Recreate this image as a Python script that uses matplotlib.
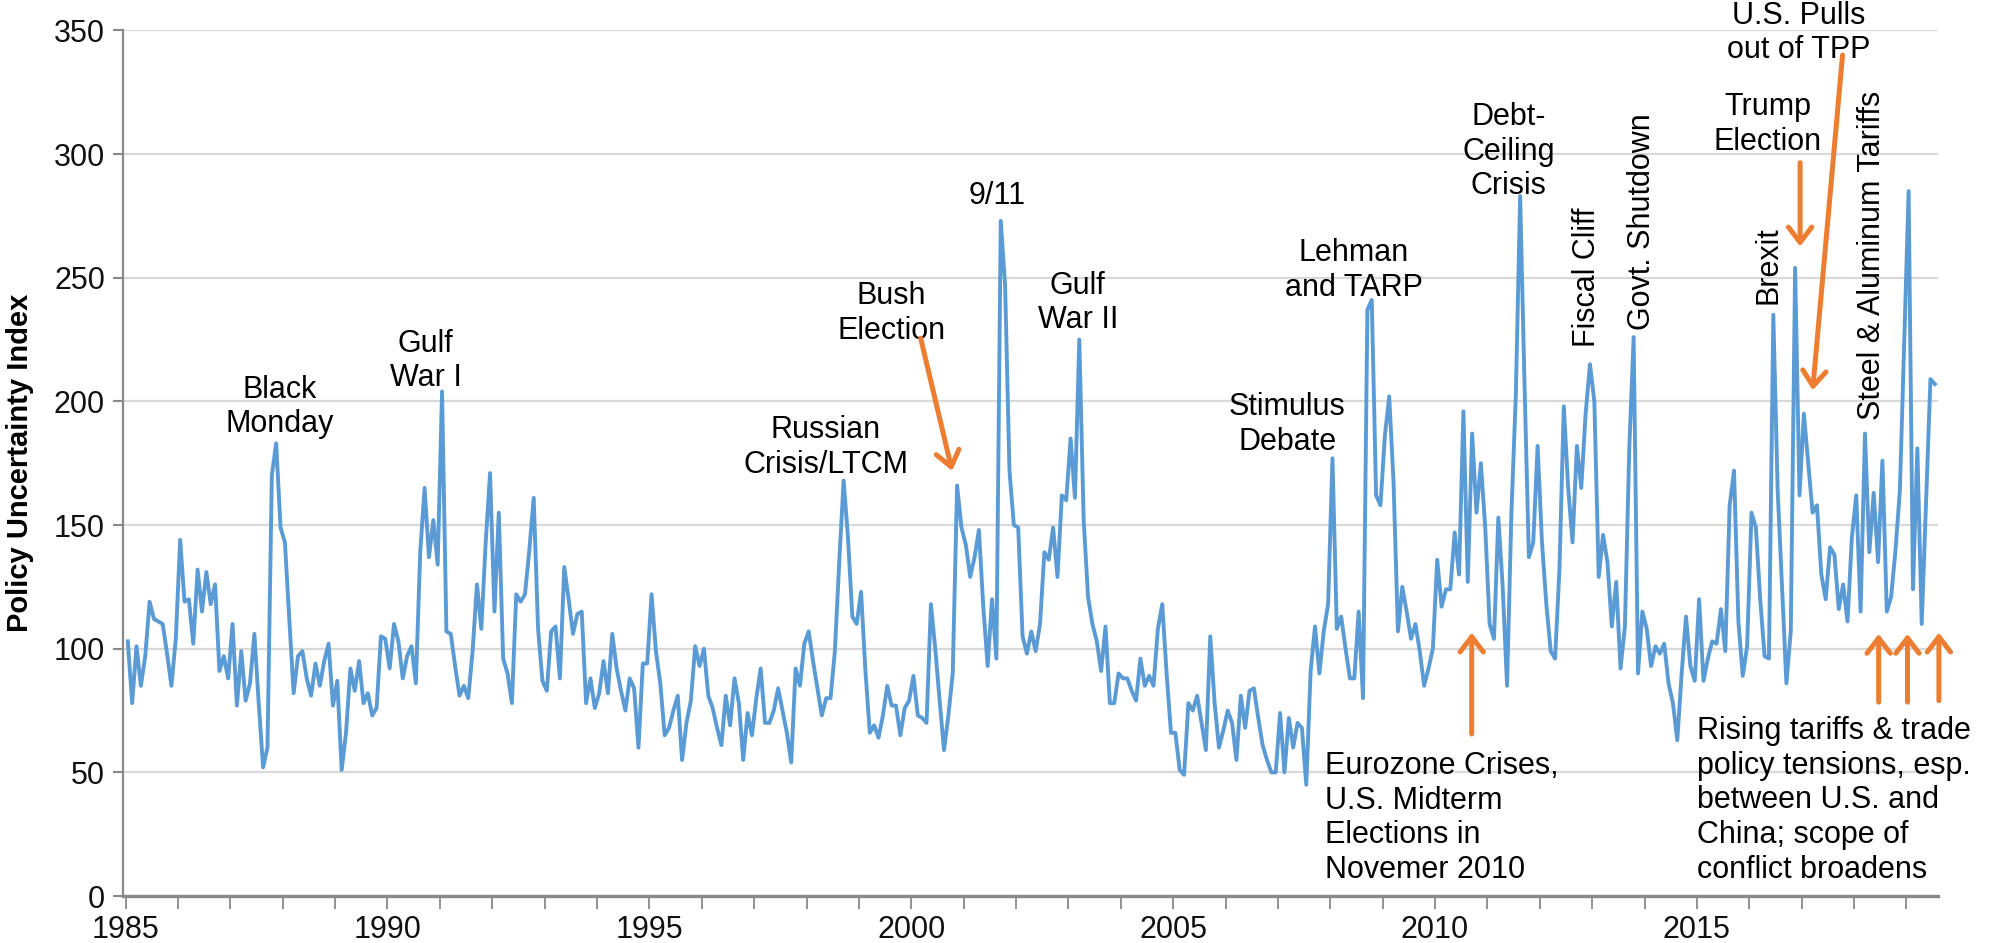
import matplotlib
matplotlib.use('Agg')
import matplotlib.pyplot as plt
import numpy as np

plt.rcParams['font.family'] = ['Liberation Sans', 'DejaVu Sans']

# ---------------- data (monthly, Jan 1985 - Jul 2019) ----------------
start_year = 1985
epu_1985 = [103, 78, 101, 85, 97, 119, 112, 111, 110, 98, 85, 104]
epu_1986 = [144, 119, 120, 102, 132, 115, 131, 118, 126, 91, 97, 88]
epu_1987 = [110, 77, 99, 79, 86, 106, 78, 52, 60, 170, 183, 149]
epu_1988 = [143, 112, 82, 97, 99, 88, 81, 94, 85, 95, 102, 77]
epu_1989 = [87, 51, 66, 92, 83, 95, 78, 82, 73, 76, 105, 104]
epu_1990 = [92, 110, 103, 88, 97, 101, 86, 139, 165, 137, 152, 134]
epu_1991 = [204, 107, 106, 93, 81, 85, 80, 99, 126, 108, 143, 171]
epu_1992 = [115, 155, 96, 90, 78, 122, 119, 122, 140, 161, 108, 87]
epu_1993 = [83, 107, 109, 88, 133, 120, 106, 114, 115, 78, 88, 76]
epu_1994 = [82, 95, 82, 106, 92, 83, 75, 88, 84, 60, 94, 94]
epu_1995 = [122, 99, 86, 65, 68, 75, 81, 55, 70, 79, 101, 93]
epu_1996 = [100, 81, 76, 68, 61, 81, 69, 88, 78, 55, 74, 65]
epu_1997 = [80, 92, 70, 70, 75, 84, 75, 66, 54, 92, 85, 102]
epu_1998 = [107, 95, 84, 73, 80, 80, 99, 135, 168, 145, 113, 110]
epu_1999 = [123, 91, 66, 69, 64, 73, 85, 77, 77, 65, 76, 79]
epu_2000 = [89, 73, 72, 70, 118, 100, 79, 59, 73, 90, 166, 149]
epu_2001 = [142, 129, 137, 148, 117, 93, 120, 96, 273, 247, 172, 150]
epu_2002 = [149, 105, 98, 107, 99, 110, 139, 136, 149, 129, 162, 160]
epu_2003 = [185, 161, 225, 152, 121, 110, 103, 91, 109, 78, 78, 90]
epu_2004 = [88, 88, 83, 79, 96, 85, 89, 85, 108, 118, 90, 66]
epu_2005 = [66, 51, 49, 78, 75, 81, 70, 59, 105, 78, 60, 67]
epu_2006 = [75, 70, 55, 81, 68, 83, 84, 72, 61, 55, 50, 50]
epu_2007 = [74, 50, 72, 60, 70, 68, 45, 91, 109, 90, 107, 118]
epu_2008 = [177, 108, 113, 100, 88, 88, 115, 80, 237, 241, 162, 158]
epu_2009 = [186, 202, 167, 107, 125, 115, 104, 110, 99, 85, 92, 100]
epu_2010 = [136, 117, 124, 124, 147, 130, 196, 127, 187, 155, 175, 149]
epu_2011 = [110, 104, 153, 125, 85, 155, 202, 283, 207, 137, 143, 182]
epu_2012 = [143, 118, 99, 96, 132, 198, 165, 143, 182, 165, 195, 215]
epu_2013 = [200, 129, 146, 135, 109, 127, 92, 109, 181, 226, 90, 115]
epu_2014 = [108, 93, 101, 98, 102, 86, 78, 63, 90, 113, 93, 87]
epu_2015 = [120, 87, 96, 103, 102, 116, 99, 158, 172, 111, 89, 101]
epu_2016 = [155, 149, 120, 97, 96, 235, 164, 125, 86, 107, 254, 162]
epu_2017 = [195, 175, 155, 158, 130, 120, 141, 138, 116, 126, 111, 145]
epu_2018 = [162, 115, 187, 139, 163, 135, 176, 115, 121, 140, 164, 225]
epu_2019 = [285, 124, 181, 110, 160, 209, 207]

epu = (epu_1985 + epu_1986 + epu_1987 + epu_1988 + epu_1989 + epu_1990 +
       epu_1991 + epu_1992 + epu_1993 + epu_1994 + epu_1995 + epu_1996 +
       epu_1997 + epu_1998 + epu_1999 + epu_2000 + epu_2001 + epu_2002 +
       epu_2003 + epu_2004 + epu_2005 + epu_2006 + epu_2007 + epu_2008 +
       epu_2009 + epu_2010 + epu_2011 + epu_2012 + epu_2013 + epu_2014 +
       epu_2015 + epu_2016 + epu_2017 + epu_2018 + epu_2019)

tick_years = list(range(1985, 2020))
tick_labels = [str(y) if (y - 1985) % 5 == 0 else '' for y in tick_years]
y_ticks = [0, 50, 100, 150, 200, 250, 300, 350]

months = np.arange(len(epu))
xdates = start_year + (months + 0.5) / 12.0

BLUE = '#5B9BD5'
ORANGE = '#ED7D31'
GRID = '#D9D9D9'
AXC = '#898989'
FS = 22

fig = plt.figure(figsize=(19.9, 9.43), dpi=100)
ax = fig.add_axes([0.0618, 0.0498, 0.912, 0.918])

ax.plot(xdates, epu, color=BLUE, lw=2.8, solid_joinstyle='round', zorder=3)

ax.set_xlim(1984.95, 2019.6)
ax.set_ylim(0, 350)
ax.set_yticks(y_ticks)
ax.set_xticks(tick_years)
ax.set_xticklabels(tick_labels)
ax.yaxis.grid(True, color=GRID, lw=1.6)
ax.set_axisbelow(True)

for s in ['top', 'right']:
    ax.spines[s].set_visible(False)
ax.spines['left'].set_color(AXC)
ax.spines['left'].set_linewidth(1.6)
ax.spines['bottom'].set_color(AXC)
ax.spines['bottom'].set_linewidth(2.4)

ax.tick_params(axis='y', direction='out', length=7, width=1.5, color=AXC,
               labelsize=22, pad=6, labelcolor='#111111')
ax.tick_params(axis='x', direction='out', length=9, width=1.3, color=AXC,
               labelsize=22, pad=5, labelcolor='#111111')

ax.set_ylabel('Policy Uncertainty Index', fontsize=21, fontweight='bold')
ax.yaxis.set_label_coords(-0.049, 0.5)

# ---------------- annotations ----------------
def txt(x, y, s, **kw):
    d = dict(fontsize=FS, ha='center', va='center', color='black',
             linespacing=1.2, zorder=5, clip_on=False)
    d.update(kw)
    ax.text(x, y, s, **d)

txt(1987.95, 197.8, 'Black\nMonday')
txt(1990.73, 216.4, 'Gulf\nWar I')
txt(1998.37, 181.3, 'Russian\nCrisis/LTCM')
txt(1999.62, 235.5, 'Bush\nElection')
txt(2001.64, 283.0, '9/11')
txt(2003.18, 239.7, 'Gulf\nWar II')
txt(2007.18, 190.6, 'Stimulus\nDebate')
txt(2008.45, 253.0, 'Lehman\nand TARP')
txt(2011.40, 300.9, 'Debt-\nCeiling\nCrisis')
txt(2016.35, 312.0, 'Trump\nElection')
txt(2016.95, 349.0, 'U.S. Pulls\nout of TPP')

txt(2012.91, 221.8, 'Fiscal Cliff', rotation=90, va='bottom')
txt(2013.96, 229.0, 'Govt. Shutdown', rotation=90, va='bottom')
txt(2016.37, 239.4, 'Brexit', rotation=90, va='bottom')
txt(2018.34, 192.4, 'Steel & Aluminum Tariffs', rotation=90, va='bottom')

txt(2007.90, 31.6, 'Eurozone Crises,\nU.S. Midterm\nElections in\nNovemer 2010',
    ha='left', multialignment='left')
txt(2015.01, 38.7, 'Rising tariffs & trade\npolicy tensions, esp.\nbetween U.S. and\n'
    'China; scope of\nconflict broadens', ha='left', multialignment='left')

def arrow(tail, head):
    ax.annotate('', xy=head, xytext=tail, annotation_clip=False, zorder=6,
                arrowprops=dict(arrowstyle='->,head_length=0.55,head_width=0.42',
                                color=ORANGE, lw=3.6, mutation_scale=20,
                                shrinkA=0, shrinkB=0))

arrow((2000.18, 225.5), (2000.78, 171.9))   # Bush election
arrow((2016.97, 296.5), (2016.97, 262.6))   # Trump election
arrow((2017.78, 340.0), (2017.21, 204.5))   # TPP
arrow((2010.70, 65.5), (2010.70, 106.5))    # Eurozone
arrow((2018.47, 78.4), (2018.47, 106.0))    # trade 1
arrow((2019.02, 78.4), (2019.02, 106.0))    # trade 2
arrow((2019.62, 79.0), (2019.62, 106.5))    # trade 3

fig.savefig('out.png', dpi=100)
